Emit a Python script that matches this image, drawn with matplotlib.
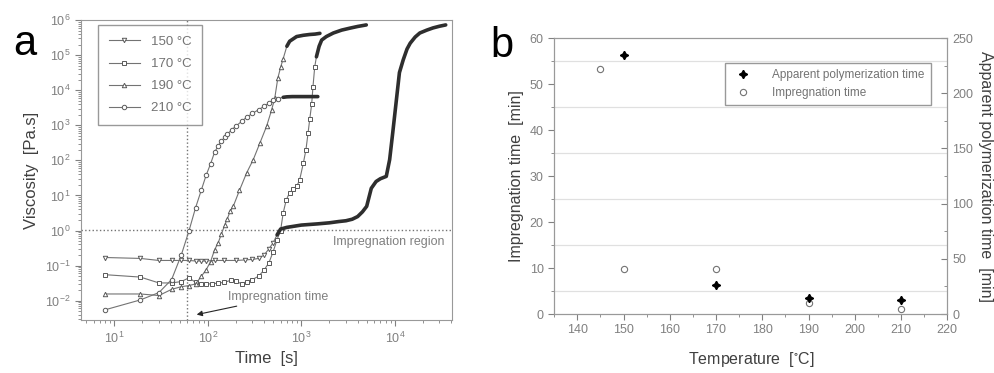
import matplotlib
matplotlib.use("Agg")
import matplotlib.pyplot as plt
import numpy as np
from matplotlib.ticker import LogLocator, MultipleLocator, NullFormatter

plt.rcParams['font.family'] = ['Liberation Sans', 'DejaVu Sans']
plt.rcParams['mathtext.default'] = 'regular'

# Panel a: viscosity versus cure time at four temperatures
t_150 = [8, 19, 30, 41, 52, 63, 74, 85, 96, 120, 150, 200, 250, 300, 350, 400, 450, 500, 550, 600,
         700, 1000, 1500, 2000, 2500, 3000, 3500, 4000, 4500, 5000, 5600, 6300, 7000, 8100, 8800,
         9500, 10400, 11200, 12300, 13500, 14600, 16500, 18500, 22000, 25600, 30000, 35000]
eta_150 = [0.17, 0.16, 0.14, 0.14, 0.14, 0.14, 0.135, 0.135, 0.135, 0.14, 0.14, 0.14, 0.145, 0.15,
           0.16, 0.2, 0.3, 0.45, 0.75, 1.1, 1.23, 1.43, 1.55, 1.66, 1.8, 1.9, 2.1, 2.5, 3.4, 4.9,
           16, 25, 30, 35, 105, 620, 5400, 3.2e4, 7.4e4, 1.5e5, 2.2e5, 3.3e5, 4.3e5, 5.2e5, 6e5,
           6.7e5, 7.3e5]

t_170 = [8, 19, 30, 41, 52, 63, 74, 85, 96, 110, 130, 150, 175, 200, 230, 260, 300, 350, 400, 450,
         500, 550, 600, 640, 690, 750, 820, 900, 960, 1050, 1120, 1180, 1230, 1290, 1330, 1390,
         1450, 1550, 1650, 1850, 2200, 2700, 3300, 4000, 4950]
eta_170 = [0.055, 0.047, 0.032, 0.032, 0.035, 0.045, 0.033, 0.03, 0.03, 0.03, 0.032, 0.033, 0.038,
           0.036, 0.03, 0.035, 0.04, 0.05, 0.075, 0.12, 0.25, 0.55, 1.0, 3.2, 7.5, 12, 15, 19, 28,
           83, 200, 600, 1500, 4000, 1.2e4, 4.6e4, 9e4, 1.8e5, 2.7e5, 3.4e5, 4.3e5, 5.2e5, 5.9e5,
           6.6e5, 7.3e5]

t_190 = [8, 19, 30, 41, 52, 63, 74, 85, 96, 107, 118, 129, 140, 151, 162, 173, 187, 218, 260, 306,
         360, 425, 480, 520, 560, 600, 640, 700, 750, 890, 1050, 1230, 1400, 1580]
eta_190 = [0.0155, 0.0155, 0.014, 0.021, 0.025, 0.027, 0.03, 0.049, 0.076, 0.13, 0.28, 0.45, 0.8,
           1.4, 2.2, 3.5, 4.9, 14, 44, 105, 310, 940, 2700, 6000, 2.2e4, 4.5e4, 8e4, 1.8e5, 2.5e5,
           3.4e5, 3.7e5, 3.9e5, 4e5, 4.2e5]

t_210 = [8, 19, 30, 41, 52, 63, 74, 85, 96, 107, 118, 129, 140, 151, 162, 180, 200, 230, 260, 300,
         350, 400, 450, 500, 560, 640, 700, 800, 1000, 1200, 1500]
eta_210 = [0.0055, 0.0105, 0.017, 0.04, 0.2, 1.0, 4.5, 14, 38, 80, 170, 260, 360, 450, 560, 750,
           950, 1300, 1700, 2200, 2800, 3500, 4300, 5300, 5800, 6300, 6500, 6600, 6600, 6600, 6600]

labels_a = ['150 °C', '170 °C', '190 °C', '210 °C']
impregnation_t = 60
impregnation_eta = 1.05

# Panel b: impregnation and apparent polymerization times
temp_imp = [145, 150, 170, 190, 210]
imp_time = [53.2, 9.8, 9.8, 2.5, 1.1]
temp_poly = [150, 170, 190, 210]
poly_time = [235, 26, 15, 12.3]

fig = plt.figure(figsize=(9.95, 3.73), dpi=100)

# ---- panel a ----
ax = fig.add_axes([0.0814, 0.142, 0.373, 0.804])
series = [(t_150, eta_150, 'v', 550), (t_170, eta_170, 's', 1400),
          (t_190, eta_190, '^', 680), (t_210, eta_210, 'o', 600)]
for (t, eta, mk, dense_from), lab in zip(series, labels_a):
    t = np.array(t)
    eta = np.array(eta)
    sel = t >= dense_from
    ax.plot(t, eta, color='0.45', lw=0.8, marker=mk, ms=3.2, mfc='white', mec='0.35',
            mew=0.7, markevery=list(~sel), label=lab, zorder=3)
    # where the samples crowd together they merge into a dark band
    ax.plot(t[sel], eta[sel], color='0.18', lw=2.6, solid_capstyle='round', zorder=4)

ax.set_xscale('log')
ax.set_yscale('log')
ax.set_xlim(4.4, 41000)
ax.set_ylim(0.0028, 1e6)
ax.axvline(impregnation_t, color='0.45', ls=':', lw=1.0, zorder=1)
ax.axhline(impregnation_eta, color='0.45', ls=':', lw=1.0, zorder=1)
ax.text(34000, 0.48, 'Impregnation region', ha='right', va='center', fontsize=9, color='0.5')
ax.annotate('Impregnation time', xy=(76, 0.004), xytext=(165, 0.0124), ha='left', va='center',
            fontsize=9, color='0.5',
            arrowprops=dict(arrowstyle='-|>', color='0.15', lw=0.8, shrinkA=0, shrinkB=0,
                            mutation_scale=8))

ax.xaxis.set_major_locator(LogLocator(base=10, numticks=10))
ax.xaxis.set_minor_locator(LogLocator(base=10, subs=np.arange(2, 10), numticks=20))
ax.yaxis.set_major_locator(LogLocator(base=10, numticks=12))
ax.yaxis.set_minor_locator(LogLocator(base=10, subs=np.arange(2, 10), numticks=20))
ax.xaxis.set_minor_formatter(NullFormatter())
ax.yaxis.set_minor_formatter(NullFormatter())
ax.tick_params(which='both', direction='out', colors='0.5', labelsize=9, labelcolor='0.5')
ax.tick_params(which='major', length=4)
ax.tick_params(which='minor', length=2)
for s in ax.spines.values():
    s.set_color('0.6')
ax.set_xlabel('Time  [s]', fontsize=12, color='0.25')
ax.set_ylabel('Viscosity  [Pa.s]', fontsize=12, color='0.25')
ax.legend(loc='upper left', bbox_to_anchor=(0.046, 0.983), borderaxespad=0, fontsize=9.5,
          frameon=True, fancybox=False, edgecolor='0.5', handlelength=2.4, labelspacing=0.75,
          labelcolor='0.45', borderpad=0.8)

# ---- panel b ----
bx = fig.add_axes([0.557, 0.158, 0.395, 0.740])
bx2 = bx.twinx()
bx.set_xlim(135, 220)
bx.set_ylim(0, 60)
bx2.set_ylim(0, 250)
for y in np.arange(5, 60, 10):
    bx.axhline(y, color='0.88', lw=0.9, zorder=0)

bx.plot(temp_imp, imp_time, ls='none', marker='o', ms=4.5, mfc='white', mec='0.45', mew=0.8,
        label='Impregnation time', zorder=3)
bx2.plot(temp_poly, poly_time, ls='none', marker=(4, 1, 0), ms=6, color='black',
         label='Apparent polymerization time', zorder=3)

bx.xaxis.set_major_locator(MultipleLocator(10))
bx.xaxis.set_minor_locator(MultipleLocator(5))
bx.yaxis.set_major_locator(MultipleLocator(10))
bx.yaxis.set_minor_locator(MultipleLocator(5))
bx2.yaxis.set_major_locator(MultipleLocator(50))
bx2.yaxis.set_minor_locator(MultipleLocator(25))
bx.tick_params(which='both', direction='out', colors='0.5', labelsize=9, labelcolor='0.5')
bx.tick_params(which='major', length=4)
bx.tick_params(which='minor', length=2.5)
bx2.tick_params(which='both', direction='in', colors='0.5', labelsize=9, labelcolor='0.5')
bx2.tick_params(which='major', length=4)
bx2.tick_params(which='minor', length=2.5)
for a in (bx, bx2):
    for s in a.spines.values():
        s.set_color('0.6')
bx.set_xlabel('Temperature  [$^{\\circ}$C]', fontsize=11.5, color='0.25', labelpad=10)
bx.set_ylabel('Impregnation time  [min]', fontsize=11.5, color='0.25')
bx2.set_ylabel('Apparent polymerization time  [min]', fontsize=11.5, color='0.25',
               rotation=270, labelpad=14)

h1, l1 = bx2.get_legend_handles_labels()
h2, l2 = bx.get_legend_handles_labels()
bx2.legend(h1 + h2, l1 + l2, loc='upper left', bbox_to_anchor=(0.435, 0.909), borderaxespad=0,
           fontsize=8.5, frameon=True, fancybox=False, edgecolor='0.5', labelcolor='0.45',
           handletextpad=1.5, borderpad=0.5)

fig.text(0.013, 0.853, 'a', fontsize=30, color='black')
fig.text(0.4925, 0.847, 'b', fontsize=30, color='black')

fig.savefig('out.png', dpi=100)
